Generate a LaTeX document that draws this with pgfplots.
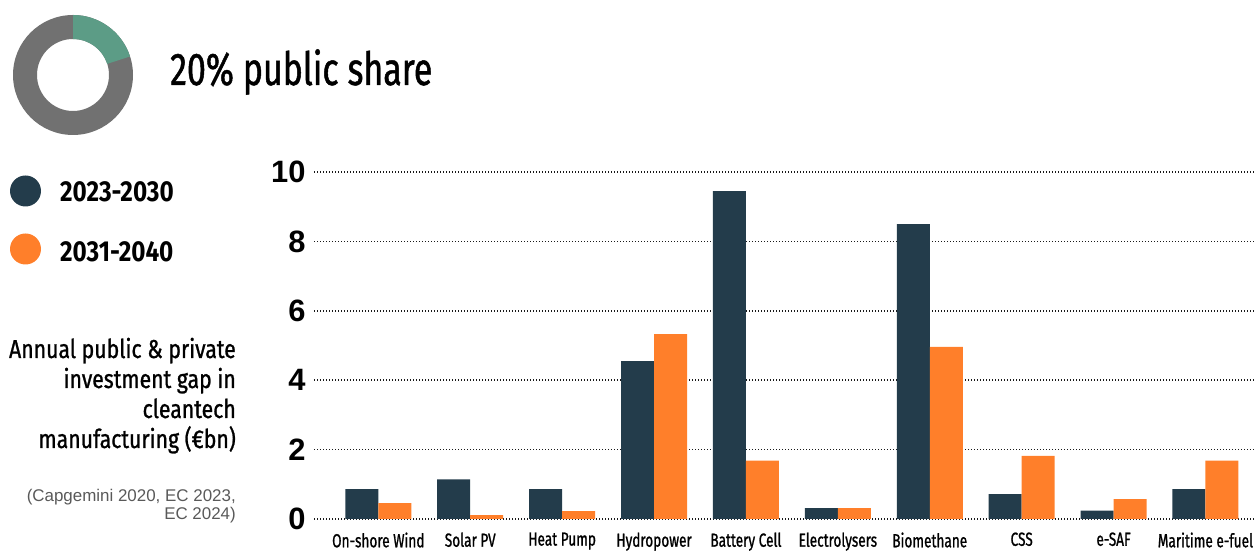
\documentclass[border=0pt]{standalone}
\usepackage{fontspec}
\setmainfont{Liberation Sans}
\usepackage{pgfplots}
\pgfplotsset{compat=1.18}
\newfontfamily\condT[FakeStretch=0.74, FakeBold=1.0]{Fira Sans}
\newfontfamily\condL[FakeStretch=0.84]{Fira Sans}
\newfontfamily\condY[FakeStretch=0.82, FakeBold=1.0]{Fira Sans}
\newfontfamily\condX[FakeStretch=0.72, FakeBold=1.0]{Fira Sans}
\definecolor{navy}{HTML}{233C4B}
\definecolor{orng}{HTML}{FF7F2A}
\definecolor{donutgrey}{HTML}{717171}
\definecolor{donutgreen}{HTML}{5C9C86}
\begin{document}
\begin{tikzpicture}[x=1bp,y=1bp]
\path[use as bounding box] (0,0) rectangle (1256,551);
% donut
\fill[donutgrey, even odd rule] (73,476) circle[radius=60] (73,476) circle[radius=36];
\fill[donutgreen] (73,536) arc[start angle=90,end angle=18,radius=60] -- ([shift={(18:36)}]73,476) arc[start angle=18,end angle=90,radius=36] -- cycle;
\node[anchor=base west, inner sep=0pt, font=\condT\fontsize{46}{46}\selectfont] at (170,466) {20\% public share};
% legend
\fill[navy] (25.5,360) circle[radius=15.5];
\fill[orng] (25.5,302) circle[radius=15.5];
\node[anchor=base west, inner sep=0pt, font=\condL\bfseries\fontsize{29}{29}\selectfont] at (60,349) {2023-2030};
\node[anchor=base west, inner sep=0pt, font=\condL\bfseries\fontsize{29}{29}\selectfont] at (60,289) {2031-2040};
% y label
\begin{scope}[every node/.style={anchor=base east, inner sep=0pt, font=\condY\fontsize{26}{26}\selectfont}]
\node at (236,193) {Annual public \& private};
\node at (236,163) {investment gap in};
\node at (236,133) {cleantech};
\node at (236,103) {manufacturing (€bn)};
\end{scope}
\begin{scope}[every node/.style={anchor=base east, inner sep=0pt, text=black!65, font=\fontsize{17}{17}\selectfont}]
\node at (236,49) {(Capgemini 2020, EC 2023,};
\node at (236,31) {EC 2024)};
\end{scope}
\begin{axis}[
  at={(314bp,32bp)}, anchor=south west,
  scale only axis, width=942bp, height=347bp,
  xmin=-0.7, xmax=9.55, ymin=0, ymax=10,
  ybar=0pt, bar width=33bp,
  axis line style={draw=none},
  major tick length=0pt,
  ytick={0,2,...,10},
  ymajorgrids,
  grid style={black!90, line width=1.5bp, dash pattern=on 1.4bp off 1.6bp},
  xtick={0,...,9},
  xticklabels={On-shore Wind,Solar PV,Heat Pump,Hydropower,Battery Cell,Electrolysers,Biomethane,CSS,e-SAF,Maritime e-fuel},
  xticklabel style={font=\condX\fontsize{19}{19}\selectfont, anchor=north, yshift=-10bp},
  yticklabel style={font=\fontsize{31}{31}\selectfont\bfseries, anchor=east, xshift=-5bp},
  /pgf/number format/assume math mode=true,
  clip=false,
]
\addplot[fill=navy, draw=none] coordinates {(0,0.86) (1,1.14) (2,0.86) (3,4.55) (4,9.45) (5,0.31) (6,8.5) (7,0.72) (8,0.24) (9,0.86)};
\addplot[fill=orng, draw=none] coordinates {(0,0.46) (1,0.11) (2,0.23) (3,5.33) (4,1.68) (5,0.31) (6,4.96) (7,1.82) (8,0.57) (9,1.68)};
\end{axis}
\end{tikzpicture}
\end{document}
